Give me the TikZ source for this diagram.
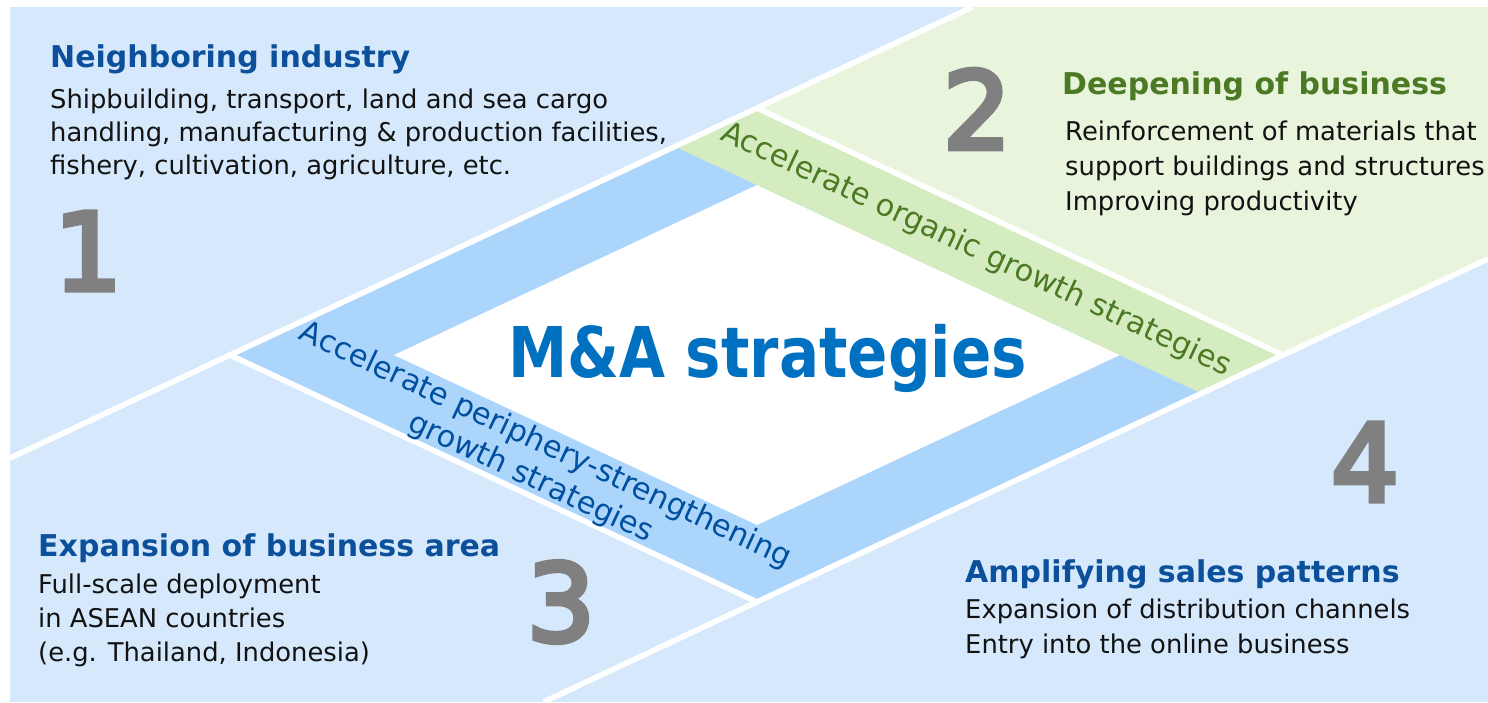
\documentclass[tikz,border=0pt]{standalone}
\usepackage{fontspec}
\setmainfont{DejaVu Sans}
\newfontfamily\numfont[FakeBold=5]{DejaVu Sans}
\usepackage{graphicx}
\definecolor{bgblue}{HTML}{D6E9FC}
\definecolor{bandblue}{HTML}{ACD5FC}
\definecolor{bggreen}{HTML}{E8F4DC}
\definecolor{bandgreen}{HTML}{D5ECC1}
\definecolor{headblue}{HTML}{0C509B}
\definecolor{headgreen}{HTML}{4C7A24}
\definecolor{mablue}{HTML}{0070C0}
\definecolor{bandtextblue}{HTML}{00509F}
\definecolor{numgray}{HTML}{808080}
\tikzset{
  head/.style={anchor=base west, inner sep=0pt, font=\fontsize{30}{35}\selectfont\bfseries},
  body/.style={anchor=base west, inner sep=0pt, font=\fontsize{25.8}{33}\selectfont, text=black!93},
  num/.style={inner sep=0pt, font=\numfont\fontsize{107}{107}\selectfont, text=numgray},
  sep/.style={draw=white, line width=5.5pt},
  bandtext/.style={inner sep=0pt, font=\fontsize{30.3}{36}\selectfont, rotate=-25.1, align=center},
}
\begin{document}
\begin{tikzpicture}[x=1pt,y=-1pt]
\useasboundingbox (0,0) rectangle (1488,702);
% key points
\coordinate (L) at (230,355);
\coordinate (T) at (757,108);
\coordinate (R) at (1283,355);
\coordinate (B) at (757,602);
\coordinate (Li) at (394,355);
\coordinate (Ti) at (757,185);
\coordinate (Ri) at (1120,355);
\coordinate (Bi) at (757,525);
\coordinate (G1) at (675,146.6);
\coordinate (G2) at (1201.3,393.3);
\coordinate (Atop) at (972.5,7);
\coordinate (Aleft) at (10,458.1);
\coordinate (Bbot) at (543.6,702);
\coordinate (Bright) at (1488,258.9);
% regions
\fill[bgblue] (10,7) rectangle (1488,702);
\fill[bggreen] (T) -- (Atop) -- (1488,7) -- (Bright) -- (R) -- cycle;
\fill[bandblue] (L) -- (T) -- (R) -- (B) -- cycle;
\fill[white] (Li) -- (Ti) -- (Ri) -- (Bi) -- cycle;
\fill[bandgreen] (G1) -- (T) -- (R) -- (G2) -- cycle;
% separators
\draw[sep] (Aleft) -- (Atop);
\draw[sep] (Bbot) -- (Bright);
\draw[sep] (L) -- (B);
\draw[sep] (T) -- (R);
% numbers
\node[num] (n1) at (88,251) {1};
\node[num] (n2) at (977,109) {2};
\node[num] (n3) at (561,602) {3};
\node[num] (n4) at (1365,462) {4};
% region 1
\node[head, text=headblue] (h1) at (50,67) {Neighboring industry};
\node[body] (b1a) at (50,108) {Shipbuilding, transport, land and sea cargo};
\node[body] (b1b) at (50,141) {handling, manufacturing \& production facilities,};
\node[body] (b1c) at (50,174) {fishery, cultivation, agriculture, etc.};
% region 2
\node[head, text=headgreen] (h2) at (1062,94) {Deepening of business};
\node[body] (b2a) at (1065,140) {Reinforcement of materials that};
\node[body] (b2b) at (1065,175) {support buildings and structures};
\node[body] (b2c) at (1065,210) {Improving productivity};
% region 3
\node[head, text=headblue] (h3) at (38,556) {Expansion of business area};
\node[body] (b3a) at (38,593) {Full-scale deployment};
\node[body] (b3b) at (38,627) {in ASEAN countries};
\node[body] (b3c) at (38,661) {(e.g. Thailand, Indonesia)};
% region 4
\node[head, text=headblue] (h4) at (965,582) {Amplifying sales patterns};
\node[body] (b4a) at (965,618) {Expansion of distribution channels};
\node[body] (b4b) at (965,653) {Entry into the online business};
% centre
\node[anchor=base, inner sep=0pt, text=mablue, font=\fontsize{70}{70}\selectfont\bfseries] (ma) at (767.5,377.5) {\scalebox{0.85}[1]{M\&A strategies}};
\node[bandtext, text=headgreen] (org) at (976,250) {Accelerate organic growth strategies};
\node[bandtext, text=bandtextblue] (per) at (538,462) {Accelerate periphery-strengthening\\growth strategies};
\end{tikzpicture}
\end{document}
